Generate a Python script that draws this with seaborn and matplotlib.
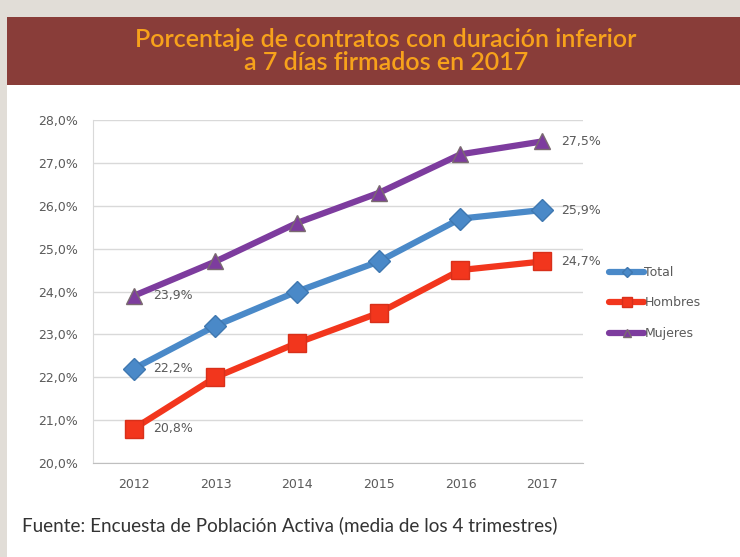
import numpy as np
import pandas as pd
import seaborn as sns
from matplotlib import pyplot as plt
from matplotlib.patches import Rectangle
from matplotlib.ticker import FuncFormatter, MultipleLocator

# --- DATA ---
years = [2012, 2013, 2014, 2015, 2016, 2017]
total = [22.2, 23.2, 24.0, 24.7, 25.7, 25.9]
hombres = [20.8, 22.0, 22.8, 23.5, 24.5, 24.7]
mujeres = [23.9, 24.7, 25.6, 26.3, 27.2, 27.5]
series_names = ["Total", "Hombres", "Mujeres"]

title_str = "Porcentaje de contratos con duración inferior\na 7 días firmados en 2017"
source_str = "Fuente: Encuesta de Población Activa (media de los 4 trimestres)"

df = pd.DataFrame({
    "year": years * 3,
    "value": total + hombres + mujeres,
    "serie": [s for s in series_names for _ in years],
})

colors = {"Total": "#4a89c8", "Hombres": "#f2361d", "Mujeres": "#7d3c9e"}
edge_colors = {"Total": "#3f78b0", "Hombres": "#d8301a", "Mujeres": "#7a6a70"}
markers = {"Total": "D", "Hombres": "s", "Mujeres": "^"}
msizes = {"Total": 11, "Hombres": 13, "Mujeres": 12}

sns.set_style("white")
plt.rcParams["font.family"] = ["Lato", "DejaVu Sans"]
small_font = "DejaVu Sans"
gray = "#5a5a5a"

fig = plt.figure(figsize=(7.4, 5.57), dpi=100)
fig.patch.set_facecolor("#e1ddd7")
W, H = 740, 557

# white panel + banner (behind the axes)
fig.patches.append(Rectangle((7 / W, 0), 1 - 7 / W, 1 - 85 / H, transform=fig.transFigure,
                             facecolor="white", edgecolor="none", zorder=-10))
fig.patches.append(Rectangle((7 / W, 1 - 85 / H), 1 - 7 / W, 68 / H, transform=fig.transFigure,
                             facecolor="#893d39", edgecolor="none", zorder=-10))
fig.text(386 / W, 1 - 51 / H, title_str, ha="center", va="center", color="#f7a21b",
         fontsize=18, fontweight="semibold", linespacing=0.95)
fig.text(22 / W, 1 - 525 / H, source_str, ha="left", va="center", color="#333333",
         fontsize=13.6)

ax = fig.add_axes([93 / W, 1 - 463 / H, 490 / W, 343 / H])
ax.set_facecolor("white")
ax.set_zorder(5)

for name in series_names:
    sub = df[df["serie"] == name]
    sns.lineplot(data=sub, x="year", y="value", ax=ax, color=colors[name], lw=4.5,
                 marker=markers[name], markersize=msizes[name], markeredgecolor=edge_colors[name],
                 markeredgewidth=1, label=name, zorder=3)

ax.set_xlim(2011.5, 2017.5)
ax.set_ylim(20, 28)
ax.set_xticks(years)
ax.yaxis.set_major_locator(MultipleLocator(1))
ax.yaxis.set_major_formatter(FuncFormatter(lambda v, p: f"{v:.1f}%".replace(".", ",")))
ax.grid(axis="y", color="#d9d9d9", lw=1)
ax.set_axisbelow(True)
ax.set_xlabel("")
ax.set_ylabel("")
for side in ["top", "right"]:
    ax.spines[side].set_visible(False)
ax.spines["left"].set_color("#d9d9d9")
ax.spines["bottom"].set_color("#bfbfbf")
ax.tick_params(axis="both", length=0, labelsize=9, labelcolor=gray)
ax.tick_params(axis="x", pad=11)
ax.tick_params(axis="y", pad=11)
for lab in ax.get_xticklabels() + ax.get_yticklabels():
    lab.set_fontfamily(small_font)

# data labels on first and last point
for name, vals in zip(series_names, [total, hombres, mujeres]):
    for i in [0, len(years) - 1]:
        ax.annotate(f"{vals[i]:.1f}%".replace(".", ","), (years[i], vals[i]),
                    xytext=(14, 0), textcoords="offset points", ha="left", va="center",
                    fontsize=9, color=gray, family=small_font)

leg = ax.legend(loc="center left", bbox_to_anchor=(598 / W, 1 - 303 / H),
                bbox_transform=fig.transFigure, frameon=False,
                prop={"family": small_font, "size": 9},
                handlelength=2.8, handletextpad=0.0, labelspacing=1.4, markerscale=0.5)
for t in leg.get_texts():
    t.set_color(gray)

fig.savefig("out.png", dpi=100, facecolor=fig.get_facecolor())
